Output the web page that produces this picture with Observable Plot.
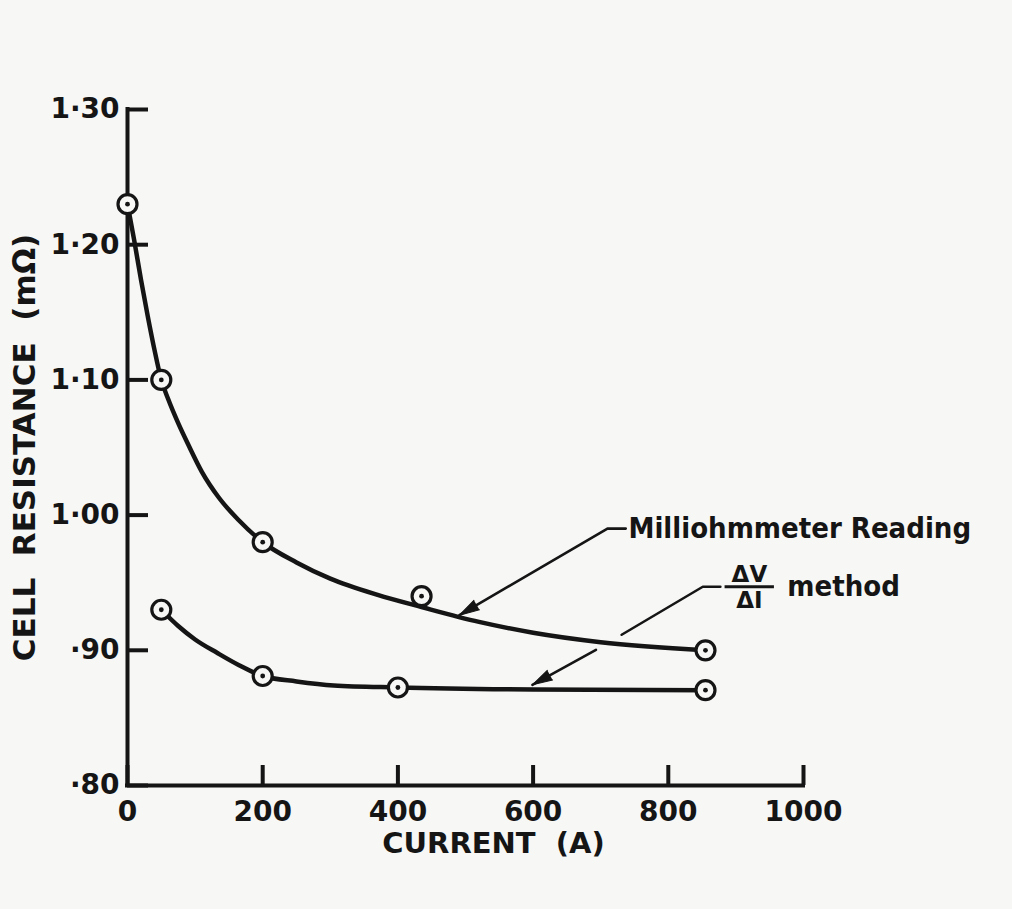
<!DOCTYPE html>
<html>
<head>
<meta charset="utf-8">
<script src="https://cdn.jsdelivr.net/npm/d3@7"></script>
<script src="https://cdn.jsdelivr.net/npm/@observablehq/plot@0.6"></script>
<style>
  html, body { margin: 0; padding: 0; background: #f7f7f5; }
  #chart svg { display: block; }
</style>
</head>
<body>
<div id="chart"></div>
<script>
// ---------- data ----------
const xTicks = [0, 200, 400, 600, 800, 1000];
const yTicks = [0.80, 0.90, 1.00, 1.10, 1.20, 1.30];
const yTickLabels = ["·80", "·90", "1·00", "1·10", "1·20", "1·30"];
const xTitle = "CURRENT  (A)";
const yTitle = "CELL  RESISTANCE  (mΩ)";

// measured points
const milliCurrent = [0, 50, 200, 435, 855];
const milliResistance = [1.230, 1.100, 0.980, 0.940, 0.900];
const dvdiCurrent = [50, 200, 400, 855];
const dvdiResistance = [0.930, 0.881, 0.8725, 0.8705];

// hand-drawn fitted curves
const milliFitCurrent = [0, 10, 20, 30, 40, 50, 60, 75, 90, 110, 135, 165, 200, 250, 300, 370, 435, 520, 600, 700, 855];
const milliFitResistance = [1.230, 1.203, 1.174, 1.147, 1.122, 1.100, 1.086, 1.068, 1.052, 1.032, 1.013, 0.996, 0.980, 0.965, 0.953, 0.941, 0.932, 0.921, 0.913, 0.906, 0.900];
const dvdiFitCurrent = [50, 75, 100, 133, 165, 200, 250, 305, 400, 600, 855];
const dvdiFitResistance = [0.930, 0.918, 0.908, 0.898, 0.889, 0.881, 0.877, 0.874, 0.8725, 0.871, 0.8705];

// annotations
const milliLabel = "Milliohmmeter Reading";
const milliLabelAt = [741, 0.990];
const milliLeaderX = [737, 710, 491];
const milliLeaderY = [0.990, 0.990, 0.926];

const dvdiNumerator = "ΔV";
const dvdiDenominator = "ΔI";
const dvdiWord = "method";
const dvdiBarX = [884, 957];
const dvdiBarY = 0.947;
const dvdiFracX = 920;
const dvdiWordX = 976;
const dvdiLeader1X = [877, 851, 731];
const dvdiLeader1Y = [0.947, 0.947, 0.9115];
const dvdiLeader2X = [693, 599];
const dvdiLeader2Y = [0.9003, 0.8745];

// ---------- build ----------
const bg = "#f7f7f5";
const ink = "#151515";
const layout = {width: 1012, height: 909, marginLeft: 127, marginRight: 209, marginTop: 109, marginBottom: 124};
const xOpt = {domain: [0, 1000]};
const yOpt = {domain: [0.8, 1.3]};

const zip = (xs, ys) => xs.map((x, i) => ({x, y: ys[i]}));
const milliPts = zip(milliCurrent, milliResistance);
const dvdiPts = zip(dvdiCurrent, dvdiResistance);
const milliFit = zip(milliFitCurrent, milliFitResistance);
const dvdiFit = zip(dvdiFitCurrent, dvdiFitResistance);
const milliLeader = zip(milliLeaderX, milliLeaderY);
const dvdiLeader1 = zip(dvdiLeader1X, dvdiLeader1Y);
const dvdiLeader2 = zip(dvdiLeader2X, dvdiLeader2Y);

// probe scales to orient arrowheads in screen space
const probe = Plot.plot({...layout, x: xOpt, y: yOpt, marks: [Plot.dot(milliPts, {x: "x", y: "y"})]});
const sx = probe.scale("x"), sy = probe.scale("y");
function headOf(xs, ys) {
  const n = xs.length;
  const x0 = sx.apply(xs[n - 2]), y0 = sy.apply(ys[n - 2]);
  const x1 = sx.apply(xs[n - 1]), y1 = sy.apply(ys[n - 1]);
  return {x: xs[n - 1], y: ys[n - 1], rotate: Math.atan2(x1 - x0, -(y1 - y0)) * 180 / Math.PI};
}
const heads = [headOf(milliLeaderX, milliLeaderY), headOf(dvdiLeader2X, dvdiLeader2Y)];
const labelMap = new Map(yTicks.map((t, i) => [t, yTickLabels[i]]));

const chart = Plot.plot({
  ...layout,
  x: xOpt,
  y: yOpt,
  style: {background: bg, color: ink, fontFamily: "'DejaVu Sans', sans-serif", fontWeight: "bold", fontSize: "28px"},
  marks: [
    // axes
    Plot.ruleX([0], {y1: 0.8, y2: 1.3, stroke: ink, strokeWidth: 4, strokeLinecap: "square"}),
    Plot.ruleY([0.8], {x1: 0, x2: 1000, stroke: ink, strokeWidth: 4, strokeLinecap: "square"}),
    Plot.axisY(yTicks, {tickSize: -21, tickPadding: 29, tickFormat: d => labelMap.get(d), stroke: ink, strokeWidth: 4, fill: ink, fontSize: 28, fontWeight: "bold", label: null}),
    Plot.axisX(xTicks, {tickSize: -20, tickPadding: 36, tickFormat: d => String(d), stroke: ink, strokeWidth: 4, fill: ink, fontSize: 28, fontWeight: "bold", label: null}),
    Plot.text([yTitle], {frameAnchor: "left", rotate: -90, dx: -102, textAnchor: "middle", fontSize: 31, fontWeight: "bold", fill: ink, lineAnchor: "middle"}),
    Plot.text([xTitle], {frameAnchor: "bottom", dx: 28, dy: 58, textAnchor: "middle", fontSize: 29, fontWeight: "bold", fill: ink, lineAnchor: "middle"}),
    // fitted curves
    Plot.line(milliFit, {x: "x", y: "y", curve: "monotone-x", stroke: ink, strokeWidth: 4.5}),
    Plot.line(dvdiFit, {x: "x", y: "y", curve: "monotone-x", stroke: ink, strokeWidth: 4.5}),
    // leaders
    Plot.line(milliLeader, {x: "x", y: "y", stroke: ink, strokeWidth: 2.6}),
    Plot.line(dvdiLeader1, {x: "x", y: "y", stroke: ink, strokeWidth: 2.6}),
    Plot.line(dvdiLeader2, {x: "x", y: "y", stroke: ink, strokeWidth: 2.6}),
    Plot.vector(heads, {x: "x", y: "y", rotate: "rotate", length: 20, r: 5.5, shape: "spike", anchor: "end", fill: ink, stroke: ink, strokeWidth: 1}),
    // annotation text
    Plot.text([milliLabel], {x: milliLabelAt[0], y: milliLabelAt[1], textAnchor: "start", lineAnchor: "middle", fontFamily: "'DejaVu Sans Condensed', 'DejaVu Sans', sans-serif", fontSize: 29, fontWeight: "bold", fill: ink}),
    Plot.ruleY([dvdiBarY], {x1: dvdiBarX[0], x2: dvdiBarX[1], stroke: ink, strokeWidth: 3}),
    Plot.text([dvdiNumerator], {x: dvdiFracX, y: dvdiBarY, dy: -5, lineAnchor: "bottom", fontSize: 23, fontWeight: "bold", fill: ink}),
    Plot.text([dvdiDenominator], {x: dvdiFracX, y: dvdiBarY, dy: 5, lineAnchor: "top", fontSize: 23, fontWeight: "bold", fill: ink}),
    Plot.text([dvdiWord], {x: dvdiWordX, y: dvdiBarY, textAnchor: "start", lineAnchor: "middle", fontFamily: "'DejaVu Sans Condensed', 'DejaVu Sans', sans-serif", fontSize: 29, fontWeight: "bold", fill: ink}),
    // measured points
    Plot.dot(milliPts, {x: "x", y: "y", r: 9.5, fill: bg, stroke: ink, strokeWidth: 3.2}),
    Plot.dot(milliPts, {x: "x", y: "y", r: 2.4, fill: ink}),
    Plot.dot(dvdiPts, {x: "x", y: "y", r: 9.5, fill: bg, stroke: ink, strokeWidth: 3.2}),
    Plot.dot(dvdiPts, {x: "x", y: "y", r: 2.4, fill: ink})
  ]
});
document.getElementById("chart").append(chart);
</script>
</body>
</html>
